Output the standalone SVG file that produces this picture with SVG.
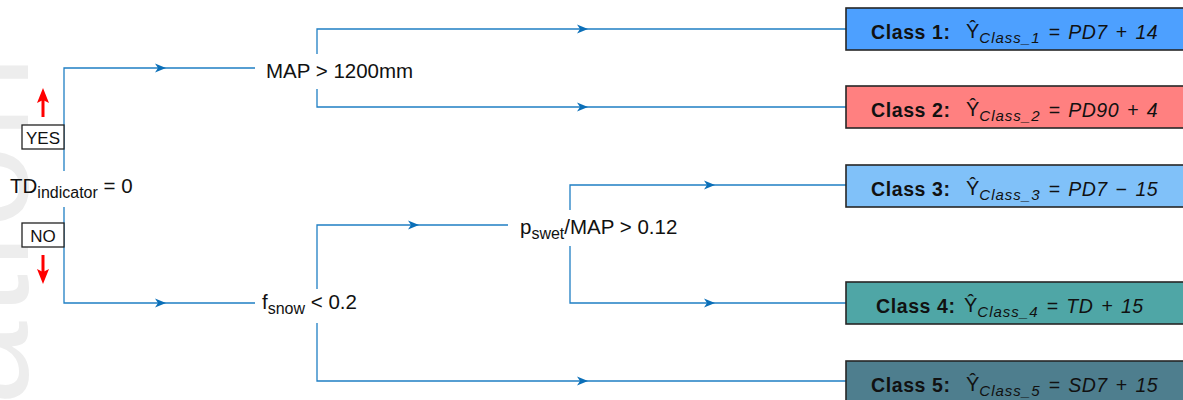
<svg xmlns="http://www.w3.org/2000/svg" xmlns:xlink="http://www.w3.org/1999/xlink" width="1183" height="400" viewBox="0 0 1183 400">
  <style>
    .lbl { font-family: "Liberation Sans", Arial, sans-serif; font-size: 20.5px; fill: #111; }
    .sub { font-size: 16px; }
    .tag { font-family: "Liberation Sans", Arial, sans-serif; font-size: 17px; fill: #111; }
    .tagbox { fill: #fff; stroke: #222; stroke-width: 1.3; }
    .conn { fill: none; stroke: #1f7fc4; stroke-width: 1.3; }
    .box { stroke: #262626; stroke-width: 1.6; }
    .cls { font-family: "Liberation Sans", Arial, sans-serif; fill: #111; }
    .cname { font-weight: bold; font-size: 19.5px; letter-spacing: 0.6px; }
    .formula { font-size: 20px; }
    .s { font-style: italic; font-size: 15px; letter-spacing: 1px; }
    .rhs { font-style: italic; font-size: 19.5px; letter-spacing: 0.5px; word-spacing: 2px; }
    .wm { font-family: "Liberation Sans", Arial, sans-serif; font-size: 150px; fill: #ededed; }
    .red { stroke: #ff0000; stroke-width: 3; fill: none; }
  </style>
  <defs>
    <path id="ah" d="M -11 -4.5 L 0 0 L -11 4.5 L -8 0 Z" fill="#0b6fb8"/>
    <path id="rh" d="M -6 0 L 0 -15 L 6 0 L 0 -3 Z" fill="#ff0000"/>
  </defs>

  <!-- faint background lettering at the left edge -->
  <text class="wm" transform="translate(28,405) rotate(-90)" letter-spacing="6">ation</text>

  <!-- connectors -->
  <g id="connectors">
    <!-- root split -->
    <path class="conn" d="M 64 171 V 68 H 255"/>
    <path class="conn" d="M 64 207 V 303 H 255"/>
    <!-- MAP split -->
    <path class="conn" d="M 317 54 V 29 H 846"/>
    <path class="conn" d="M 317 89 V 107 H 846"/>
    <!-- f_snow split -->
    <path class="conn" d="M 317 289 V 225 H 508"/>
    <path class="conn" d="M 317 323 V 381 H 846"/>
    <!-- p_swet split -->
    <path class="conn" d="M 570 210 V 185 H 846"/>
    <path class="conn" d="M 570 246 V 303 H 846"/>
    <!-- arrowheads -->
    <use xlink:href="#ah" x="166" y="68"/>
    <use xlink:href="#ah" x="166" y="303"/>
    <use xlink:href="#ah" x="588" y="29"/>
    <use xlink:href="#ah" x="588" y="107"/>
    <use xlink:href="#ah" x="419" y="225"/>
    <use xlink:href="#ah" x="588" y="381"/>
    <use xlink:href="#ah" x="715" y="185"/>
    <use xlink:href="#ah" x="715" y="303"/>
    <!-- yes / no direction arrows -->
    <line class="red" x1="43" y1="117" x2="43" y2="98"/>
    <use xlink:href="#rh" x="43" y="103"/>
    <line class="red" x1="43" y1="255" x2="43" y2="274"/>
    <use xlink:href="#rh" transform="translate(43,269) rotate(180)"/>
  </g>

  <!-- root decision -->
  <g id="node-root">
    <text class="lbl" x="10" y="193">TD<tspan class="sub" dy="5">indicator</tspan><tspan dy="-5"> = 0</tspan></text>
  </g>
  <g id="tag-yes">
    <rect class="tagbox" x="22" y="125" width="42" height="24"/>
    <text class="tag" x="43" y="143.5" text-anchor="middle">YES</text>
  </g>
  <g id="tag-no">
    <rect class="tagbox" x="22" y="223" width="42" height="24"/>
    <text class="tag" x="43" y="241.5" text-anchor="middle">NO</text>
  </g>

  <!-- second level decisions -->
  <g id="node-map">
    <text class="lbl" x="266" y="78">MAP &gt; 1200mm</text>
  </g>
  <g id="node-fsnow">
    <text class="lbl" x="262" y="309">f<tspan class="sub" dy="5">snow</tspan><tspan dy="-5"> &lt; 0.2</tspan></text>
  </g>
  <g id="node-pswet">
    <text class="lbl" x="520" y="234">p<tspan class="sub" dy="5">swet</tspan><tspan dy="-5">/MAP &gt; 0.12</tspan></text>
  </g>

  <!-- leaf classes: bold name, then Y-hat with italic subscript and formula -->
  <g id="class-1" class="cls">
    <rect class="box" x="846" y="8" width="346" height="42" fill="#4da0ff"/>
    <text class="cname" x="871" y="39">Class 1:</text>
    <text class="formula" x="966" y="38">Ŷ<tspan class="s" dy="5">Class_1</tspan><tspan class="rhs" dy="-4"> = PD7 + 14</tspan></text>
  </g>
  <g id="class-2" class="cls">
    <rect class="box" x="846" y="86" width="346" height="42" fill="#ff8080"/>
    <text class="cname" x="871" y="117">Class 2:</text>
    <text class="formula" x="966" y="116">Ŷ<tspan class="s" dy="5">Class_2</tspan><tspan class="rhs" dy="-4"> = PD90 + 4</tspan></text>
  </g>
  <g id="class-3" class="cls">
    <rect class="box" x="846" y="165" width="346" height="42" fill="#80c1f9"/>
    <text class="cname" x="871" y="196">Class 3:</text>
    <text class="formula" x="966" y="195">Ŷ<tspan class="s" dy="5">Class_3</tspan><tspan class="rhs" dy="-4"> = PD7 − 15</tspan></text>
  </g>
  <g id="class-4" class="cls">
    <rect class="box" x="846" y="282" width="346" height="42" fill="#4fa6a6"/>
    <text class="cname" x="876" y="313">Class 4:</text>
    <text class="formula" x="964" y="312">Ŷ<tspan class="s" dy="5">Class_4</tspan><tspan class="rhs" dy="-4"> = TD + 15</tspan></text>
  </g>
  <g id="class-5" class="cls">
    <rect class="box" x="846" y="361" width="346" height="42" fill="#4e7e8e"/>
    <text class="cname" x="871" y="392">Class 5:</text>
    <text class="formula" x="966" y="391">Ŷ<tspan class="s" dy="5">Class_5</tspan><tspan class="rhs" dy="-4"> = SD7 + 15</tspan></text>
  </g>
</svg>
